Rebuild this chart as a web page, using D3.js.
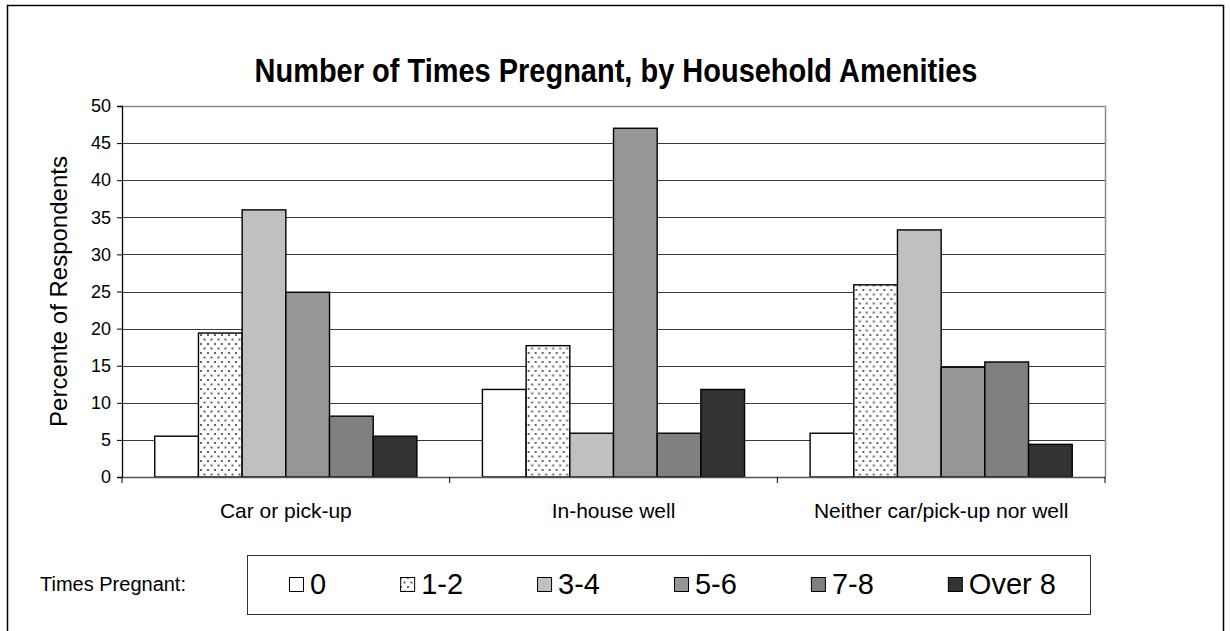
<!DOCTYPE html>
<html>
<head>
<meta charset="utf-8">
<script src="https://cdn.jsdelivr.net/npm/d3@7"></script>
<style>
  body { margin: 0; background: #fff; }
  svg { display: block; font-family: "Liberation Sans", Arial, sans-serif; }
</style>
</head>
<body>
<div id="chart"></div>
<script>
// data
var categories = ["Car or pick-up", "In-house well", "Neither car/pick-up nor well"];
var series = ["0", "1-2", "3-4", "5-6", "7-8", "Over 8"];
var carPickup = [5.5, 19.4, 36.0, 24.9, 8.2, 5.5];
var inHouseWell = [11.8, 17.7, 5.9, 47.0, 5.9, 11.8];
var neither = [5.9, 25.9, 33.3, 14.8, 15.5, 4.4];
var yTicks = [0, 5, 10, 15, 20, 25, 30, 35, 40, 45, 50];

var fills = ["#ffffff", "url(#dots)", "#c0c0c0", "#969696", "#808080", "#333333"];

var W = 1230, H = 631;
var plot = {left: 122, right: 1105, top: 106, bottom: 477};

var svg = d3.select("#chart").append("svg")
    .attr("width", W)
    .attr("height", H);

// dotted pattern for the 1-2 series
var pat = svg.append("defs").append("pattern")
    .attr("id", "dots")
    .attr("patternUnits", "userSpaceOnUse")
    .attr("width", 7)
    .attr("height", 9);
pat.append("rect").attr("width", 7).attr("height", 9).attr("fill", "#fff");
pat.append("rect").attr("x", 1).attr("y", 1).attr("width", 2).attr("height", 2).attr("fill", "#666");
pat.append("rect").attr("x", 4.5).attr("y", 5.5).attr("width", 2).attr("height", 2).attr("fill", "#666");

// outer frame
svg.append("rect")
    .attr("x", 7.5).attr("y", 5.5)
    .attr("width", 1216).attr("height", 700)
    .attr("fill", "none")
    .attr("stroke", "#000")
    .attr("stroke-width", 1.5);

// title, a bit taller than wide like the original
svg.append("text")
    .attr("transform", "translate(616,82) scale(1,1.12)")
    .attr("text-anchor", "middle")
    .attr("font-weight", "bold")
    .attr("font-size", 29)
    .text("Number of Times Pregnant, by Household Amenities");

var x0 = d3.scaleBand()
    .domain(categories)
    .range([plot.left, plot.right])
    .padding(0);

var bw = x0.bandwidth();
var x1 = d3.scaleBand()
    .domain(series)
    .range([bw * 0.1, bw * 0.9])
    .padding(0);

var y = d3.scaleLinear()
    .domain([0, 50])
    .range([plot.bottom, plot.top]);

// gridlines
svg.append("g")
  .selectAll("line")
  .data(yTicks.filter(function(d) { return d > 0 && d < 50; }))
  .enter().append("line")
    .attr("x1", plot.left).attr("x2", plot.right)
    .attr("y1", function(d) { return Math.round(y(d)) + 0.5; })
    .attr("y2", function(d) { return Math.round(y(d)) + 0.5; })
    .attr("stroke", "#3a3a3a")
    .attr("stroke-width", 1);

// plot area border (top / right)
svg.append("path")
    .attr("d", "M" + plot.left + "," + (plot.top + 0.5) + "H" + (plot.right + 0.5) + "V" + plot.bottom)
    .attr("fill", "none")
    .attr("stroke", "#8c8c8c")
    .attr("stroke-width", 1.5);

var table = [carPickup, inHouseWell, neither];

var groups = svg.append("g")
  .selectAll("g")
  .data(categories)
  .enter().append("g")
    .attr("transform", function(d) { return "translate(" + x0(d) + ",0)"; });

groups.selectAll("rect")
    .data(function(c, i) {
      return series.map(function(s, j) { return {s: s, j: j, v: table[i][j]}; });
    })
  .enter().append("rect")
    .attr("x", function(d) { return x1(d.s); })
    .attr("y", function(d) { return y(d.v); })
    .attr("width", x1.bandwidth())
    .attr("height", function(d) { return plot.bottom - y(d.v); })
    .attr("fill", function(d) { return fills[d.j]; })
    .attr("stroke", "#000")
    .attr("stroke-width", 1.4);

// y axis
var yAxis = svg.append("g")
    .attr("transform", "translate(" + plot.left + ",0)")
    .call(d3.axisLeft(y).tickValues(yTicks).tickSize(5).tickPadding(6));
yAxis.select(".domain").attr("stroke", "#000").attr("stroke-width", 1.3);
yAxis.selectAll("text").attr("font-size", 18).attr("fill", "#000")
    .style("font-family", "'Liberation Sans', Arial, sans-serif");

// x axis
var xAxis = svg.append("g")
    .attr("transform", "translate(0," + plot.bottom + ")")
    .call(d3.axisBottom(x0).tickSize(0).tickPadding(0));
xAxis.select(".domain").attr("stroke", "#555").attr("stroke-width", 1.3);
xAxis.selectAll("text")
    .attr("y", 41).attr("dy", 0)
    .attr("font-size", 21).attr("fill", "#000")
    .style("font-family", "'Liberation Sans', Arial, sans-serif");

// category dividers
svg.append("g")
  .selectAll("line")
  .data(categories.concat(["end"]))
  .enter().append("line")
    .attr("x1", function(d, i) { return plot.left + i * bw; })
    .attr("x2", function(d, i) { return plot.left + i * bw; })
    .attr("y1", plot.bottom)
    .attr("y2", plot.bottom + 6)
    .attr("stroke", "#000")
    .attr("stroke-width", 1);

svg.append("text")
    .attr("transform", "translate(67," + ((plot.top + plot.bottom) / 2) + ") rotate(-90)")
    .attr("text-anchor", "middle")
    .attr("font-size", 24)
    .text("Percente of Respondents");

// legend
svg.append("text")
    .attr("x", 40)
    .attr("y", 591)
    .attr("font-size", 20)
    .text("Times Pregnant:");

svg.append("rect")
    .attr("x", 247.5).attr("y", 555.5)
    .attr("width", 843).attr("height", 59)
    .attr("fill", "#fff")
    .attr("stroke", "#333")
    .attr("stroke-width", 1);

var lx = 289;
series.forEach(function(s, j) {
  svg.append("rect")
      .attr("x", lx + 0.5).attr("y", 577.5)
      .attr("width", 14).attr("height", 14)
      .attr("fill", fills[j])
      .attr("stroke", "#000")
      .attr("stroke-width", 1);
  var t = svg.append("text")
      .attr("x", lx + 21)
      .attr("y", 594)
      .attr("font-size", 29)
      .text(s);
  lx = lx + 21 + t.node().getComputedTextLength() + 74;
});
</script>
</body>
</html>
